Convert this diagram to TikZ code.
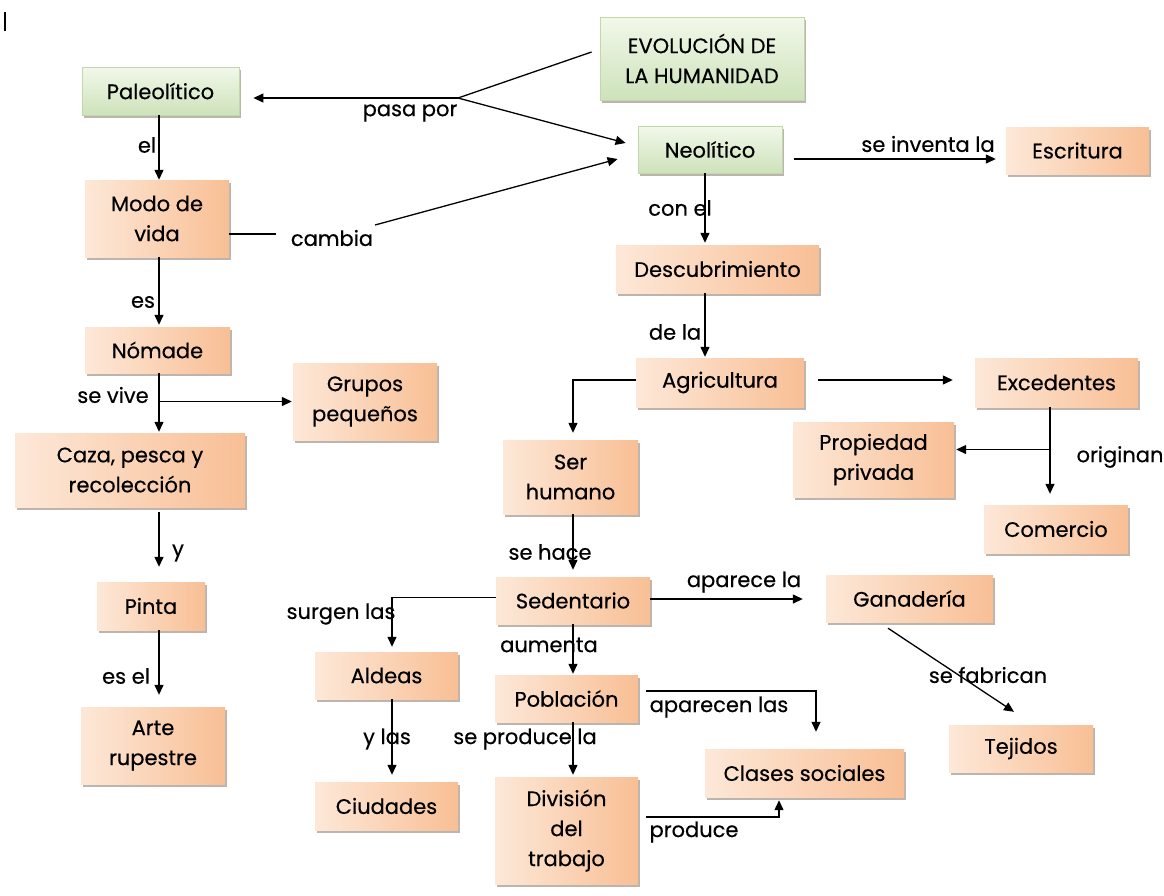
\documentclass[tikz,border=0pt]{standalone}
\usepackage{fontspec}
\setmainfont[FakeBold=0.4]{Poppins}
\usetikzlibrary{arrows.meta,shadows,calc}
\definecolor{orL}{HTML}{FDE8D8}
\definecolor{orD}{HTML}{F8BF95}
\definecolor{grL}{HTML}{F2F8EA}
\definecolor{grD}{HTML}{CDE2BA}
\definecolor{grB}{HTML}{C2D8AC}
\definecolor{shd}{HTML}{BDB5AD}
\begin{document}
\begin{tikzpicture}[x=1pt,y=-1pt,
  txt/.style={font=\fontsize{21}{30}\selectfont, text=black, inner sep=1pt},
  box/.style={txt, rectangle, align=center, inner sep=0pt,
    drop shadow={shadow xshift=2pt, shadow yshift=-3pt, fill=shd, opacity=1}},
  obox/.style={box, left color=orL, right color=orD},
  gbox/.style={box, top color=grL, bottom color=grD, draw=grB, line width=0.8pt},
  lbl/.style={txt},
  link/.style={line width=1.3pt, draw=black},
  arr/.style={link, -{Triangle[length=10pt,width=9pt]}},
]
\useasboundingbox (0,0) rectangle (1164,895);
\fill[white] (0,0) rectangle (1164,895);
\coordinate (cur1) at (5,12);
\coordinate (cur2) at (5,31);
\draw[line width=1.2pt] (cur1) -- (cur2);

% nodes
\node[gbox, minimum width=204pt, minimum height=83pt] (evo) at (702,58.5) {EVOLUCIÓN DE\\LA HUMANIDAD};
\node[gbox, minimum width=157pt, minimum height=48pt] (pal) at (160.5,91) {Paleolítico};
\node[gbox, minimum width=144pt, minimum height=47pt] (neo) at (710,149.5) {Neolítico};
\node[obox, minimum width=143pt, minimum height=47pt] (esc) at (1077.5,150.5) {Escritura};
\node[obox, minimum width=144pt, minimum height=77pt] (modo) at (157,218.5) {Modo de\\vida};
\node[obox, minimum width=203pt, minimum height=48pt] (desc) at (717.5,269) {Descubrimiento};
\node[obox, minimum width=145pt, minimum height=46pt] (nom) at (157.5,350) {Nómade};
\node[obox, minimum width=144pt, minimum height=77pt] (grupos) at (365,401.5) {Grupos\\pequeños};
\node[obox, minimum width=230pt, minimum height=74pt] (caza) at (130,470) {Caza, pesca y\\recolección};
\node[obox, minimum width=108pt, minimum height=48pt] (pinta) at (151,606) {Pinta};
\node[obox, minimum width=144pt, minimum height=77pt] (arte) at (153,745.5) {Arte\\rupestre};
\node[obox, minimum width=168pt, minimum height=49pt] (agri) at (720,382.5) {Agricultura};
\node[obox, minimum width=163pt, minimum height=49pt] (exc) at (1056.5,382.5) {Excedentes};
\node[obox, minimum width=161pt, minimum height=75pt] (prop) at (873.5,459.5) {Propiedad\\privada};
\node[obox, minimum width=144pt, minimum height=48pt] (com) at (1056,529) {Comercio};
\node[obox, minimum width=135pt, minimum height=74pt] (ser) at (570.5,477) {Ser\\humano};
\node[obox, minimum width=154pt, minimum height=47pt] (sed) at (573,600.5) {Sedentario};
\node[obox, minimum width=167pt, minimum height=47pt] (gan) at (909.5,598.5) {Ganadería};
\node[obox, minimum width=144pt, minimum height=47pt] (tej) at (1021,748.5) {Tejidos};
\node[obox, minimum width=143pt, minimum height=47pt] (ald) at (386.5,675.5) {Aldeas};
\node[obox, minimum width=143pt, minimum height=48pt] (ciu) at (386.5,806) {Ciudades};
\node[obox, minimum width=143pt, minimum height=47pt] (pob) at (566.5,698.5) {Población};
\node[obox, minimum width=199pt, minimum height=48pt] (cla) at (804.5,773) {Clases sociales};
\node[obox, minimum width=143pt, minimum height=107pt] (div) at (566.5,830.5) {División\\del\\trabajo};

% labels
\node[lbl] (lpasa) at (410,113) {pasa por};
\node[lbl] (lel) at (147,145) {el};
\node[lbl] (cambia) at (332,238) {cambia};
\node[lbl] (les) at (143,302) {es};
\node[lbl] (lvive) at (113,395) {se vive};
\node[lbl] (ly) at (178,553) {y};
\node[lbl] (lesel) at (126,676) {es el};
\node[lbl] (linv) at (928,144) {se inventa la};
\node[lbl] (lcon) at (680,208) {con el};
\node[lbl] (ldela) at (675,332) {de la};
\node[lbl] (lorig) at (1120,457) {originan};
\node[lbl] (lhace) at (550,552) {se hace};
\node[lbl] (lsurg) at (341,614) {surgen las};
\node[lbl] (lapa) at (744,582) {aparece la};
\node[lbl] (laum) at (549,645) {aumenta};
\node[lbl] (lylas) at (387,739) {y las};
\node[lbl] (lprodla) at (525,739) {se produce la};
\node[lbl] (lapas) at (719,707) {aparecen las};
\node[lbl] (lprod) at (694,832) {produce};
\node[lbl] (lfab) at (988,675) {se fabrican};

% reference x coordinates
\coordinate (lc) at (159,0);
\coordinate (rc) at (705,0);
\coordinate (sc) at (573,0);
\coordinate (ac) at (392,0);
\coordinate (ec) at (1050,0);
\coordinate (J) at (458,98);
\coordinate (cb) at (375,225);

% connectors
\draw[link] ($(evo.west)+(-8,-6.5)$) -- (J);
\draw[arr] (J) -- ($(pal.east)+(14,7)$);
\draw[arr] (J) -- ($(neo.west)+(-12,-6.5)$);
\draw[link] ($(modo.east)+(0,15.5)$) -- ($(cambia.west)+(-14,-4)$);
\draw[arr] (cb) -- ($(neo.west)+(-20,9.5)$);
\draw[arr] ($(neo.east)+(12,9.5)$) -- ($(esc.west)+(-10,8.5)$);

\draw[arr] (pal.south -| lc) -- (modo.north -| lc);
\draw[arr] (modo.south -| lc) -- ($(nom.north -| lc)+(0,-2)$);
\draw[arr] (nom.south -| lc) -- ($(caza.north -| lc)+(0,-1)$);
\draw[arr] (grupos.west -| lc) -- ($(grupos.west)+(-1,0)$);
\draw[arr] ($(caza.south -| lc)+(0,5)$) -- ($(pinta.north -| lc)+(0,-15)$);
\draw[arr] (pinta.south -| lc) -- ($(arte.north -| lc)+(0,-12)$);

\draw[arr] (neo.south -| rc) -- ($(desc.north -| rc)+(0,-2)$);
\draw[arr] (desc.south -| rc) -- ($(agri.north -| rc)+(0,-1)$);
\draw[arr] ($(agri.west)+(0,-2.5)$) -| ($(ser.north -| sc)+(0,-7)$);
\draw[arr] ($(agri.east)+(14,-2.5)$) -- ($(exc.west)+(-22,-2.5)$);
\draw[arr] (exc.south -| ec) -- ($(com.north -| ec)+(0,-11)$);
\coordinate (pa) at ($(prop.east)+(2,-10)$);
\draw[arr] (ec |- pa) -- (pa);

\draw[arr] (ser.south -| sc) -- ($(sed.north -| sc)+(0,-7)$);
\draw[arr] ($(sed.west)+(0,-3)$) -| ($(ald.north -| ac)+(0,-5)$);
\draw[arr] (ald.south -| ac) -- ($(ciu.north -| ac)+(0,-7)$);
\draw[arr] (sed.south -| sc) -- ($(pob.north -| sc)+(0,-1)$);
\draw[arr] (pob.south -| sc) -- ($(div.north -| sc)+(0,-2)$);
\draw[arr] ($(sed.east)+(0,-1.5)$) -- ($(gan.west)+(-23,0.5)$);
\draw[arr] ($(gan.south)+(-21.5,6)$) -- ($(tej.north)+(-7,-13)$);
\coordinate (k1) at ($(pob.east)+(8,-7.5)$);
\draw[arr] (k1) -| ($(cla.north)+(11.5,-17)$);
\coordinate (k2) at ($(div.east)+(8,-13.5)$);
\draw[arr] (k2) -| ($(cla.south)+(-25.5,3)$);
\end{tikzpicture}
\end{document}
